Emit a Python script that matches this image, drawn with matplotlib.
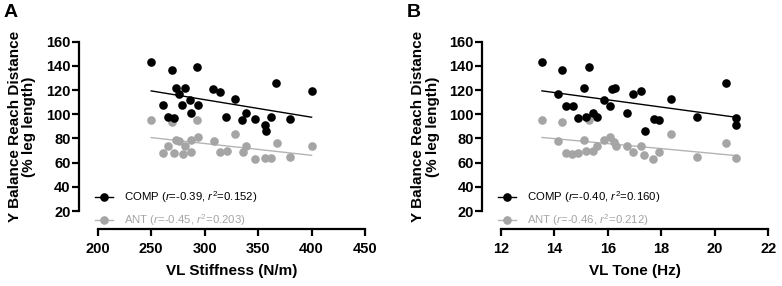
#!/usr/bin/env python

# Y balance reach distance against VL stiffness (A) and VL tone (B)
#  for the COMP and ANT groups, with linear fits.

import numpy as np
import matplotlib
matplotlib.use('Agg')
import matplotlib.pyplot as plt
from matplotlib.lines import Line2D

plt.rcParams['font.family'] = ['Liberation Sans', 'DejaVu Sans']
plt.rcParams['mathtext.fontset'] = 'custom'
plt.rcParams['mathtext.rm'] = 'Liberation Sans'
plt.rcParams['mathtext.it'] = 'Liberation Sans:italic'

# Panel A data: VL stiffness (N/m) vs reach (% leg length)
stiff_comp = [250, 269, 293, 273, 282, 276, 308, 314, 328, 367, 400, 261, 279, 286,
              294, 266, 271, 287, 320, 339, 335, 347, 362, 356, 357, 380]
reach_comp_a = [143, 137, 139, 122, 122, 117, 121, 118, 113, 126, 119, 108, 108, 112,
                108, 98, 97, 101, 98, 101, 95, 96, 98, 91, 86, 96]
stiff_ant = [250, 269, 293, 273, 276, 287, 294, 309, 328, 266, 282, 261, 271, 280,
             287, 314, 321, 336, 339, 347, 356, 362, 368, 380, 400]
reach_ant_a = [95, 94, 95, 79, 78, 79, 81, 78, 84, 74, 74, 68, 68, 67,
               69, 69, 70, 69, 74, 63, 64, 64, 76, 65, 74]

# Panel B data: VL tone (Hz) vs reach (% leg length)
tone_comp = [13.53, 14.27, 15.29, 14.13, 15.12, 16.14, 16.28, 16.93, 17.24, 18.36,
             20.42, 20.78, 20.78, 15.85, 16.07, 14.42, 14.68, 14.89, 15.17, 15.45,
             15.58, 16.70, 17.71, 17.91, 17.37, 19.32]
reach_comp_b = [143, 137, 139, 117, 122, 121, 122, 117, 119, 113,
                126, 97, 91, 112, 107, 107, 107, 97, 98, 101,
                98, 101, 96, 95, 86, 98]
tone_ant = [13.53, 14.27, 15.29, 14.13, 15.12, 15.85, 16.08, 16.23, 16.30, 16.70,
            17.22, 18.36, 20.42, 14.43, 14.67, 14.89, 15.18, 15.45, 15.58, 16.94,
            17.36, 17.70, 17.90, 19.32, 20.78]
reach_ant_b = [95, 94, 95, 78, 79, 79, 81, 77, 74, 74,
               74, 84, 76, 68, 67, 68, 70, 70, 74, 69,
               66, 63, 69, 65, 64]

comp_labels = [r'COMP ($\mathit{r}$=-0.39, $\mathit{r}^2$=0.152)',
               r'COMP ($\mathit{r}$=-0.40, $\mathit{r}^2$=0.160)']
ant_labels = [r'ANT ($\mathit{r}$=-0.45, $\mathit{r}^2$=0.203)',
              r'ANT ($\mathit{r}$=-0.46, $\mathit{r}^2$=0.212)']

black = '#000000'
grey = '#a5a5a5'
grey_line = '#b4b4b4'
msize = 6.2

fig = plt.figure(figsize=(7.82, 2.86), dpi=100, facecolor='white')


def panel(rect, xc, yc, xa, ya, xlim, xticks, xlabel, letter, lab_c, lab_a):
    ax = fig.add_axes(rect)
    ax.plot(xa, ya, 'o', color=grey, markersize=msize, markeredgewidth=0, zorder=2)
    ax.plot(xc, yc, 'o', color=black, markersize=msize, markeredgewidth=0, zorder=3)
    # linear fits
    for x, y, c in ((xc, yc, black), (xa, ya, grey_line)):
        m, b = np.polyfit(x, y, 1)
        xx = np.array([min(x), max(x)])
        ax.plot(xx, m * xx + b, color=c, lw=1.0, zorder=1)
    ax.set_xlim(xlim)
    ax.set_ylim(20, 160)
    ax.set_xticks(xticks)
    ax.set_yticks(np.arange(20, 161, 20))
    for s in ('top', 'right'):
        ax.spines[s].set_visible(False)
    ax.spines['left'].set_position(('outward', 13.5))
    ax.spines['bottom'].set_position(('outward', 13))
    for s in ('left', 'bottom'):
        ax.spines[s].set_linewidth(1.6)
    ax.tick_params(width=1.6, length=5, labelsize=10.5)
    ax.tick_params(axis='y', pad=1)
    ax.tick_params(axis='x', pad=4)
    for t in ax.get_xticklabels() + ax.get_yticklabels():
        t.set_fontweight('bold')
    ax.set_xlabel(xlabel, fontsize=11, fontweight='bold', labelpad=6)
    ax.set_ylabel('Y Balance Reach Distance\n(% leg length)', fontsize=11,
                  fontweight='bold', labelpad=7, linespacing=1.05)
    handles = [Line2D([], [], color=black, marker='o', markersize=msize, lw=1.0,
                      markeredgewidth=0),
               Line2D([], [], color=grey_line, marker='o', markersize=msize, lw=1.0,
                      markerfacecolor=grey, markeredgewidth=0)]
    leg = ax.legend(handles, [lab_c, lab_a], loc='center left',
                    bbox_to_anchor=(-0.012, 0.015), frameon=False, fontsize=8.2,
                    borderpad=0, borderaxespad=0, handlelength=1.6,
                    handletextpad=1.0, labelspacing=0.6)
    leg.get_texts()[1].set_color(grey)
    fig.text(rect[0] - 0.121, 0.985, letter, fontsize=14, fontweight='bold',
             ha='left', va='top')
    return ax


panel([0.125, 0.2622, 0.3418, 0.592], stiff_comp, reach_comp_a, stiff_ant,
      reach_ant_a, (200, 450), [200, 250, 300, 350, 400, 450],
      'VL Stiffness (N/m)', 'A', comp_labels[0], ant_labels[0])
panel([0.6407, 0.2622, 0.3418, 0.592], tone_comp, reach_comp_b, tone_ant,
      reach_ant_b, (12, 22), [12, 14, 16, 18, 20, 22],
      'VL Tone (Hz)', 'B', comp_labels[1], ant_labels[1])

fig.savefig('out.png', dpi=100)
